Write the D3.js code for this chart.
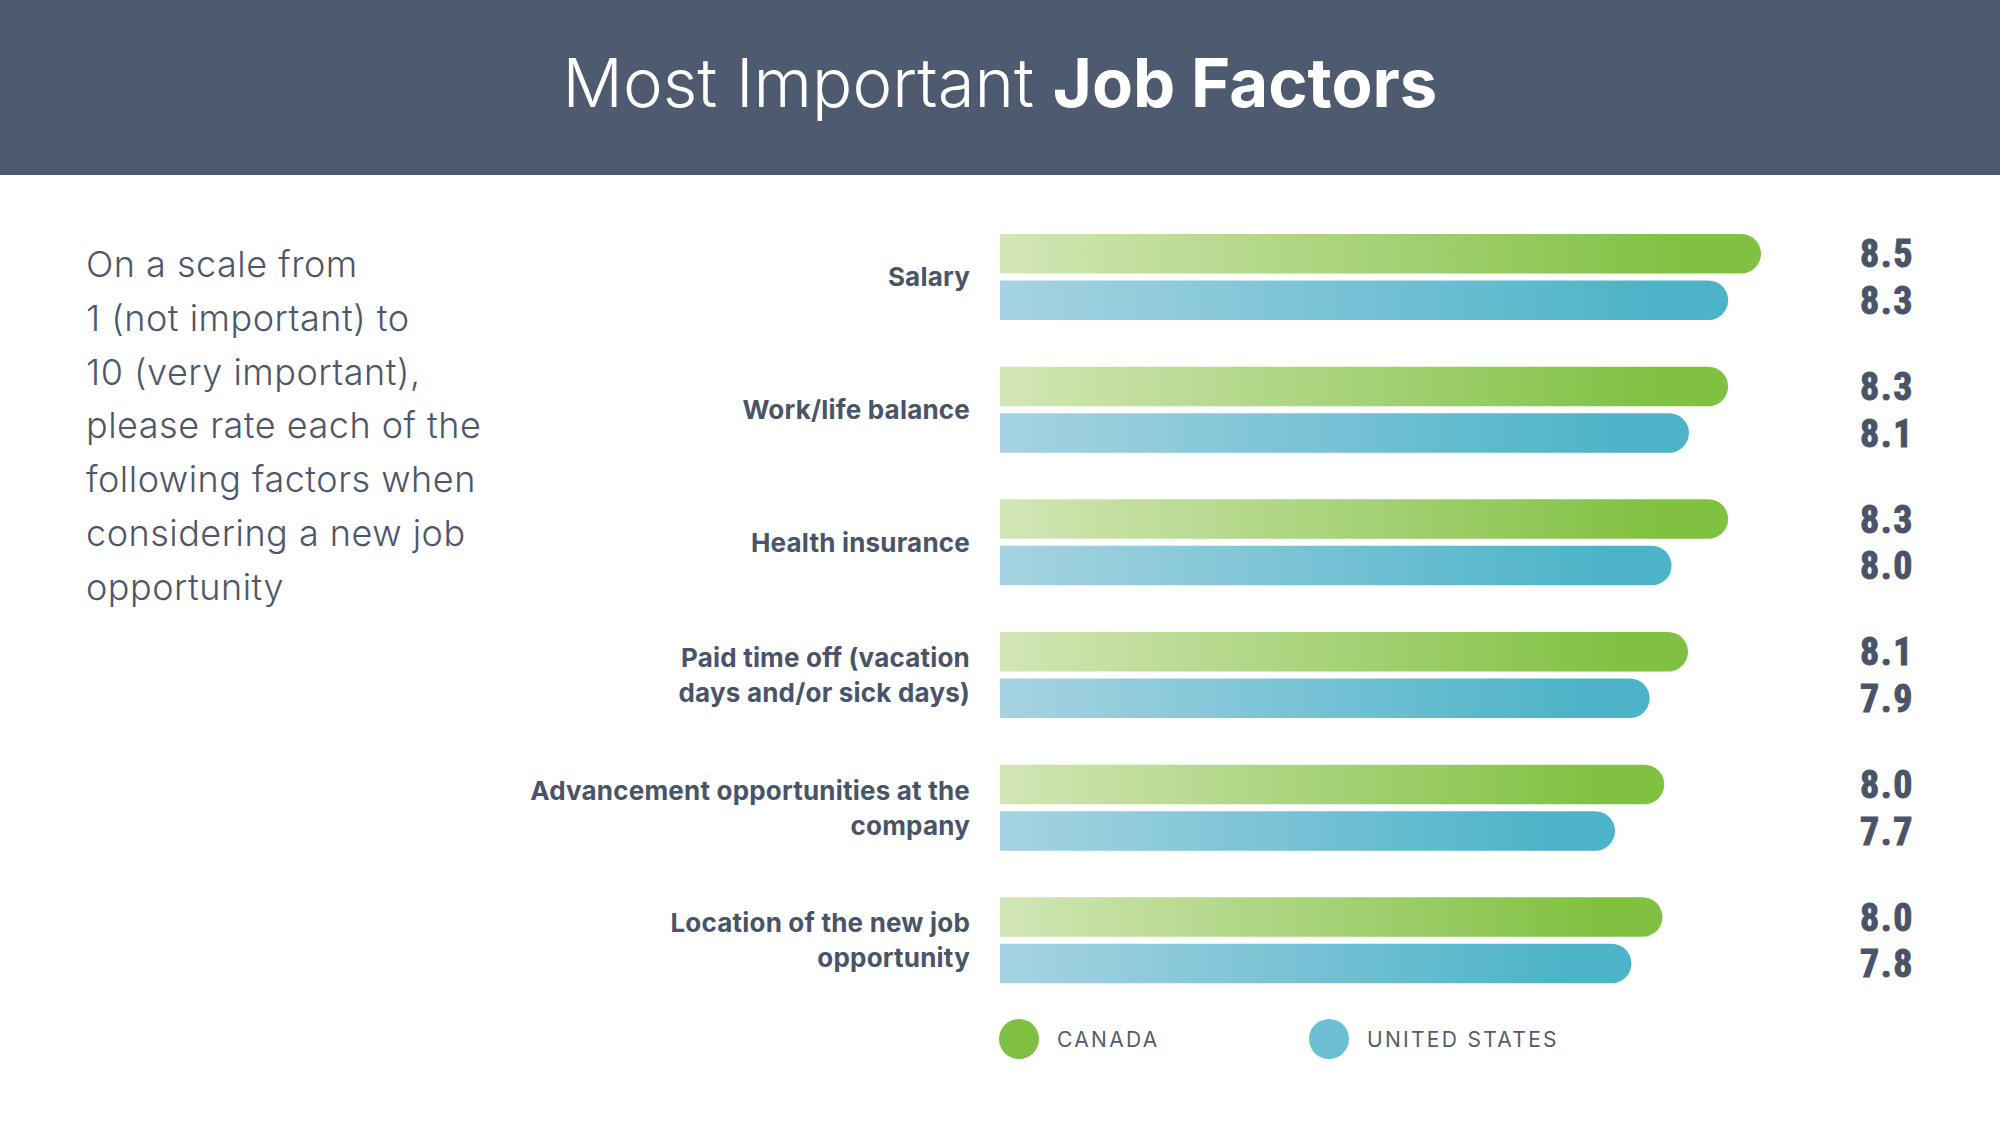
<!DOCTYPE html>
<html>
<head>
<meta charset="utf-8">
<script src="https://cdn.jsdelivr.net/npm/d3@7"></script>
<style>
    html, body { margin: 0; padding: 0; background: #ffffff; }
    #chart-container { width: 2000px; height: 1125px; }
</style>
</head>
<body>
<div id="chart-container"></div>
<script>
const categories = [
    "Salary",
    "Work/life balance",
    "Health insurance",
    "Paid time off (vacation|days and/or sick days)",
    "Advancement opportunities at the|company",
    "Location of the new job|opportunity"
];
const seriesNames = ["CANADA", "UNITED STATES"];
const canadaValues = [8.5, 8.32, 8.32, 8.1, 7.97, 7.96];
const usValues = [8.32, 8.105, 8.01, 7.89, 7.7, 7.79];
const introLines = [
    "On a scale from",
    "1 (not important) to",
    "10 (very important),",
    "please rate each of the",
    "following factors when",
    "considering a new job",
    "opportunity"
];

const W = 2000;
const H = 1125;
const textColor = "#4a5468";
const seriesColors = {
    "CANADA": { light: "#d3e6b6", dark: "#80c142", dot: "#80bf41" },
    "UNITED STATES": { light: "#a6d3e1", dark: "#4cb3c8", dot: "#6dbfd3" }
};

const svg = d3.select("#chart-container")
    .append("svg")
    .attr("width", W)
    .attr("height", H)
    .attr("viewBox", `0 0 ${W} ${H}`);

const defs = svg.append("defs");
seriesNames.forEach((s, i) => {
    const g = defs.append("linearGradient")
        .attr("id", "grad" + i)
        .attr("x1", "0%").attr("x2", "100%")
        .attr("y1", "0%").attr("y2", "0%");
    g.append("stop").attr("offset", "0%").attr("stop-color", seriesColors[s].light);
    g.append("stop").attr("offset", "90%").attr("stop-color", seriesColors[s].dark);
    g.append("stop").attr("offset", "100%").attr("stop-color", seriesColors[s].dark);
});

// header band
svg.append("rect")
    .attr("x", 0).attr("y", 0)
    .attr("width", W).attr("height", 175)
    .attr("fill", "#4e5a70");

const title = svg.append("text")
    .attr("x", W / 2)
    .attr("y", 107)
    .attr("text-anchor", "middle")
    .style("font-family", "Inter, 'Noto Sans', sans-serif")
    .style("font-size", "67px")
    .style("fill", "#ffffff");
title.append("tspan").style("font-weight", 300).text("Most Important ");
title.append("tspan").style("font-weight", 700).text("Job Factors");

// intro paragraph
svg.append("g")
    .selectAll("text")
    .data(introLines)
    .enter()
    .append("text")
    .attr("x", 86)
    .attr("y", (d, i) => 277 + i * 53.8)
    .style("font-family", "Inter, 'Noto Sans', sans-serif")
    .style("font-weight", 300)
    .style("font-size", "36px")
    .style("letter-spacing", "0.5px")
    .style("fill", "#50566a")
    .text(d => d);

// scales
const xScale = d3.scaleLinear()
    .domain([4.33, 8.5])
    .range([1000, 1761]);

const yScale = d3.scaleBand()
    .domain(categories)
    .range([234, 1030])
    .padding(0);

const ySub = d3.scaleBand()
    .domain(seriesNames)
    .range([0, 86])
    .paddingInner(0.15);

const rows = categories.map((c, i) => ({
    category: c,
    values: [
        { series: seriesNames[0], idx: 0, value: canadaValues[i] },
        { series: seriesNames[1], idx: 1, value: usValues[i] }
    ]
}));

function barPath(x0, x1, y, h) {
    const r = h / 2;
    return `M${x0},${y}H${x1 - r}A${r},${r} 0 0 1 ${x1 - r},${y + h}H${x0}Z`;
}

const groups = svg.append("g")
    .selectAll(".group")
    .data(rows)
    .enter()
    .append("g")
    .attr("class", "group")
    .attr("transform", d => `translate(0,${yScale(d.category)})`);

groups.selectAll(".bar")
    .data(d => d.values)
    .enter()
    .append("path")
    .attr("class", "bar")
    .attr("d", d => barPath(xScale.range()[0], xScale(d.value), ySub(d.series), ySub.bandwidth()))
    .attr("fill", d => `url(#grad${d.idx})`);

groups.selectAll(".value-label")
    .data(d => d.values)
    .enter()
    .append("text")
    .attr("class", "value-label")
    .attr("x", 1860)
    .attr("y", d => ySub(d.series) + ySub.bandwidth() / 2)
    .attr("dy", "0.36em")
    .style("font-family", "'Liberation Sans Narrow', 'Roboto Condensed', 'Liberation Sans', sans-serif")
    .style("font-weight", 700)
    .style("font-size", "38px")
    .style("letter-spacing", "1.5px")
    .style("fill", textColor)
    .style("stroke", textColor)
    .style("stroke-width", "1px")
    .text(d => d3.format(".1f")(d.value));

// category labels, split on "|"
groups.each(function(d) {
    const lines = d.category.split("|");
    const lineH = 35;
    const center = 43;
    const t = d3.select(this).append("text")
        .attr("text-anchor", "end")
        .style("font-family", "Inter, 'Noto Sans', sans-serif")
        .style("font-weight", 700)
        .style("font-size", "26px")
        .style("letter-spacing", "0.2px")
        .style("fill", textColor);
    lines.forEach((line, j) => {
        t.append("tspan")
            .attr("x", 970)
            .attr("y", center + (j - (lines.length - 1) / 2) * lineH)
            .attr("dy", "0.36em")
            .text(line);
    });
});

// legend
const legend = svg.append("g")
    .selectAll(".legend-item")
    .data(seriesNames)
    .enter()
    .append("g")
    .attr("class", "legend-item")
    .attr("transform", (d, i) => `translate(${1019 + i * 310},1039)`);

legend.append("circle")
    .attr("r", 20)
    .attr("fill", d => seriesColors[d].dot);

legend.append("text")
    .attr("x", 38)
    .attr("dy", "0.36em")
    .style("font-family", "Inter, 'Noto Sans', sans-serif")
    .style("font-weight", 400)
    .style("font-size", "21px")
    .style("letter-spacing", "2.3px")
    .style("fill", "#555b6b")
    .text(d => d);
</script>
</body>
</html>
